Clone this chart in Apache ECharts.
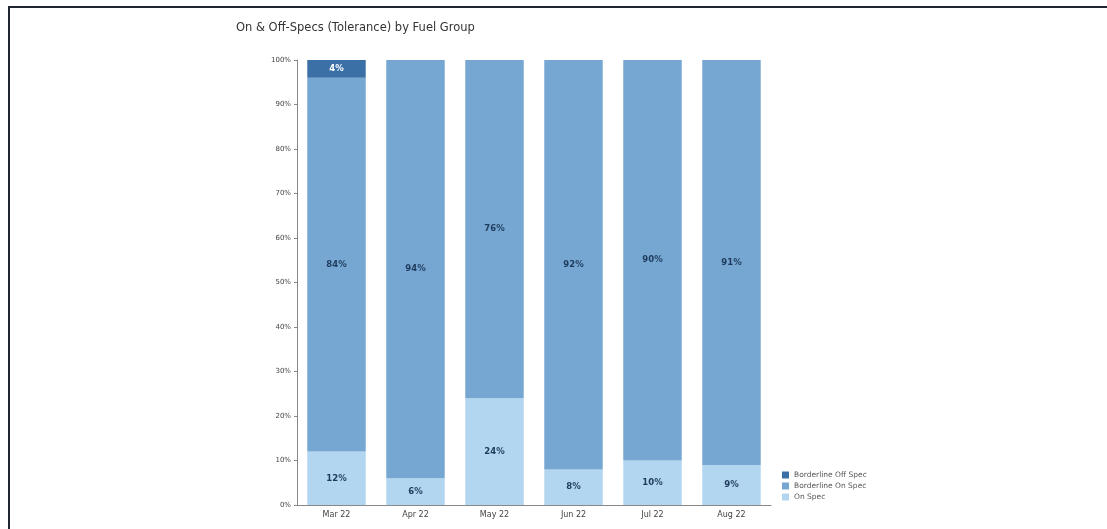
<!DOCTYPE html>
<html>
<head>
<meta charset="utf-8">
<script src="https://cdn.jsdelivr.net/npm/echarts@6/dist/echarts.min.js"></script>
<style>
html,body{margin:0;padding:0;background:#fff;}
#frame{position:absolute;left:8px;top:6px;width:1200px;height:600px;border-left:2px solid #1f2533;border-top:2px solid #1f2533;}
#chart{position:absolute;left:0;top:0;width:1107px;height:529px;}
</style>
</head>
<body>
<div id="frame"></div>
<div id="chart"></div>
<script>
const categories = ["Mar 22", "Apr 22", "May 22", "Jun 22", "Jul 22", "Aug 22"];
const onSpec = [12, 6, 24, 8, 10, 9];
const borderlineOnSpec = [84, 94, 76, 92, 90, 91];
const borderlineOffSpec = [4, 0, 0, 0, 0, 0];
const yTicks = ["0%", "10%", "20%", "30%", "40%", "50%", "60%", "70%", "80%", "90%", "100%"];

const chart = echarts.init(document.getElementById('chart'));
const lbl = (color) => ({
  show: true,
  position: 'inside',
  color: color,
  fontSize: 8.5,
  fontWeight: 'bold',
  fontFamily: 'DejaVu Sans',
  formatter: p => p.value > 0 ? p.value + '%' : ''
});
chart.setOption({
  animation: false,
  title: {
    text: 'On & Off-Specs (Tolerance) by Fuel Group',
    left: 231, top: 17,
    textStyle: {fontSize: 11.5, fontWeight: 'normal', color: '#333', fontFamily: 'DejaVu Sans'}
  },
  legend: {
    orient: 'vertical',
    left: 777, top: 466,
    itemWidth: 7, itemHeight: 7, itemGap: 3,
    icon: 'rect',
    textStyle: {fontSize: 7.5, color: '#555', fontFamily: 'DejaVu Sans'},
    data: ['Borderline Off Spec', 'Borderline On Spec', 'On Spec']
  },
  grid: {left: 297, top: 60, width: 474, height: 445, containLabel: false},
  xAxis: {
    type: 'category',
    data: categories,
    axisLine: {lineStyle: {color: '#888'}},
    axisTick: {show: false},
    axisLabel: {fontSize: 8, color: '#444', margin: 6, fontFamily: 'DejaVu Sans'}
  },
  yAxis: {
    type: 'value',
    min: 0, max: 100, interval: 10,
    axisLine: {show: true, lineStyle: {color: '#888'}},
    axisTick: {show: true, length: 3, lineStyle: {color: '#888'}},
    splitLine: {show: false},
    axisLabel: {fontSize: 7, color: '#444', margin: 6, fontFamily: 'DejaVu Sans',
      formatter: v => yTicks[Math.round(v / 10)]}
  },
  series: [
    {name: 'On Spec', type: 'bar', stack: 's', data: onSpec, barWidth: '74%',
     itemStyle: {color: '#b2d5f0'}, label: lbl('#1f3b5c')},
    {name: 'Borderline On Spec', type: 'bar', stack: 's', data: borderlineOnSpec,
     itemStyle: {color: '#76a7d3'}, label: lbl('#1f3b5c')},
    {name: 'Borderline Off Spec', type: 'bar', stack: 's', data: borderlineOffSpec,
     itemStyle: {color: '#3b70a6'}, label: lbl('#ffffff')}
  ]
});
</script>
</body>
</html>
